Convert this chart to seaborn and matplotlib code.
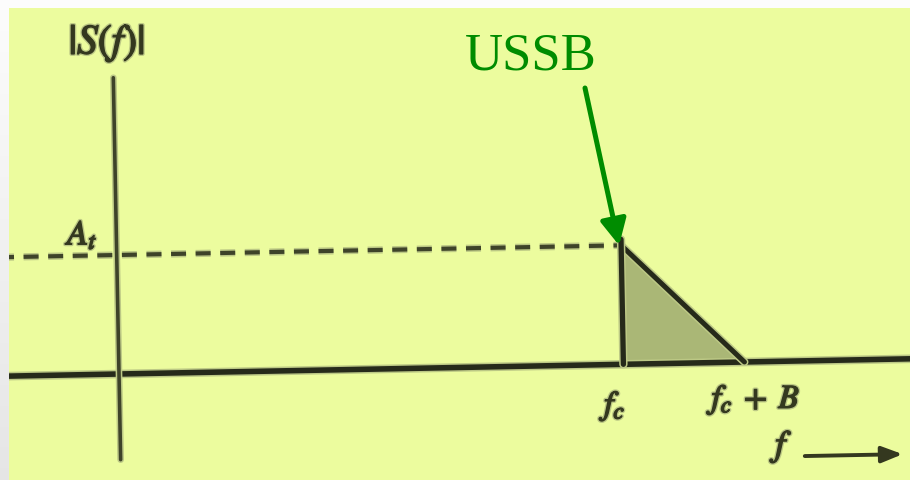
import numpy as np
import matplotlib
matplotlib.use("Agg")
import matplotlib.pyplot as plt
import matplotlib.transforms as mtransforms
import matplotlib.patheffects as pe
import seaborn as sns

# Spectrum of an upper single-sideband signal
f_c = 5.0          # carrier frequency
B = 1.2            # message bandwidth
A_t = 1.0          # sideband amplitude

axis_f = [-1.2, 8.2]            # horizontal frequency axis
axis_mag = [0.0, 0.0]
ref_f = [-1.2, f_c]             # dashed reference level
ref_mag = [A_t, A_t]
ussb_f = [f_c, f_c, f_c + B]    # sideband outline
ussb_mag = [0.0, A_t, 0.0]
edge_f = [f_c, f_c]             # vertical edge at the carrier
edge_mag = [0.0, 1.05 * A_t]
vert_f = [0.0, 0.0]             # magnitude axis
vert_mag = [-0.72, 2.49]

sns.set_theme(style="white")
plt.rcParams["mathtext.fontset"] = "stix"

W, H = 910, 480
fig = plt.figure(figsize=(W / 100, H / 100), dpi=100, facecolor="#fcfcfc")

# light grey margin on the left
strip = fig.add_axes([0, 0, 9 / W, 1])
grad = np.linspace(0.99, 0.90, 200)[:, None]
strip.imshow(np.dstack([grad, grad, grad]), aspect="auto", extent=[0, 1, 0, 1])
strip.set_axis_off()

paper = "#ecfc9e"
ax = fig.add_axes([9 / W, 0, (W - 9) / W, (H - 8) / H])
ax.set_facecolor(paper)
px_f, px_a = 100.9, 119.0          # pixels per unit
ox, oy = 119.0, 106.0              # display position of the origin
ax.set_xlim((9 - ox) / px_f, (W - ox) / px_f)
ax.set_ylim((0 - oy) / px_a, (H - 8 - oy) / px_a)
for s in ax.spines.values():
    s.set_visible(False)
ax.set_xticks([])
ax.set_yticks([])

# the whole drawing sits slightly tilted on the page
tilt = mtransforms.Affine2D().rotate_deg_around(ox, oy, 1.1)
T = ax.transData + tilt

ink = "#262a1a"
halo = "#bcc885"

def soft(lw):
    return [pe.Stroke(linewidth=lw + 2.2, foreground=halo), pe.Normal()]

# sideband fill
ax.fill(ussb_f, ussb_mag, color="#aab776", transform=T, zorder=1, lw=0)

sns.lineplot(x=axis_f, y=axis_mag, ax=ax, estimator=None, sort=False,
             color=ink, lw=4.0, transform=T, path_effects=soft(4.0), zorder=3)
sns.lineplot(x=vert_f, y=vert_mag, ax=ax, estimator=None, sort=False,
             color="#3e4329", lw=2.6, transform=T, path_effects=soft(2.6), zorder=3)
ref_line = ax.plot(ref_f, ref_mag, color="#3e4329", lw=3.0, transform=T, zorder=3,
                   path_effects=soft(3.0))[0]
ref_line.set_dashes((3.6, 2.3))
sns.lineplot(x=ussb_f[1:], y=ussb_mag[1:], ax=ax, estimator=None, sort=False,
             color=ink, lw=3.6, transform=T, path_effects=soft(3.6), zorder=4)
sns.lineplot(x=edge_f, y=edge_mag, ax=ax, estimator=None, sort=False,
             color=ink, lw=3.8, transform=T, path_effects=soft(3.8), zorder=4)
ax.set_xlabel("")
ax.set_ylabel("")
if ax.get_legend():
    ax.get_legend().remove()

text_ink = "#34381f"
txt = dict(color=text_ink, transform=T, zorder=5,
           path_effects=[pe.Stroke(linewidth=3.0, foreground=halo),
                         pe.Stroke(linewidth=1.1, foreground=text_ink),
                         pe.Normal()])
ax.text(-0.06, 2.78, r"$|S(f)|$", fontsize=30, ha="center", va="center", **txt)
ax.text(-0.33, 1.18, r"$A_t$", fontsize=25, ha="center", va="center", **txt)
ax.text(f_c - 0.07, -0.35, r"$f_c$", fontsize=24, ha="center", va="center", **txt)
ax.text(f_c + B + 0.13, -0.32, r"$f_c\;+\;B$", fontsize=24, ha="center", va="center", **txt)
ax.text(6.6, -0.72, r"$f$", fontsize=26, ha="center", va="center", **txt)
ax.annotate("", xy=(7.75, -0.80), xytext=(6.78, -0.80), xycoords=T, textcoords=T,
            arrowprops=dict(arrowstyle="-|>,head_length=0.9,head_width=0.35",
                            color=text_ink, lw=2.8, mutation_scale=14,
                            shrinkA=0, shrinkB=0), zorder=5)

# label for the sideband
green = "#008c00"
fig.text(465 / W, (H - 70) / H, "USSB", color=green, fontsize=38,
         family="Liberation Serif", ha="left", va="baseline")
ax.annotate("", xy=(f_c - 0.02, A_t), xycoords=T,
            xytext=(585, H - 88), textcoords="figure pixels",
            arrowprops=dict(arrowstyle="-|>,head_length=1.3,head_width=0.65",
                            color=green, lw=3.6, mutation_scale=12,
                            shrinkA=0, shrinkB=0), zorder=6)

fig.savefig("out.png", dpi=100, facecolor=fig.get_facecolor())
